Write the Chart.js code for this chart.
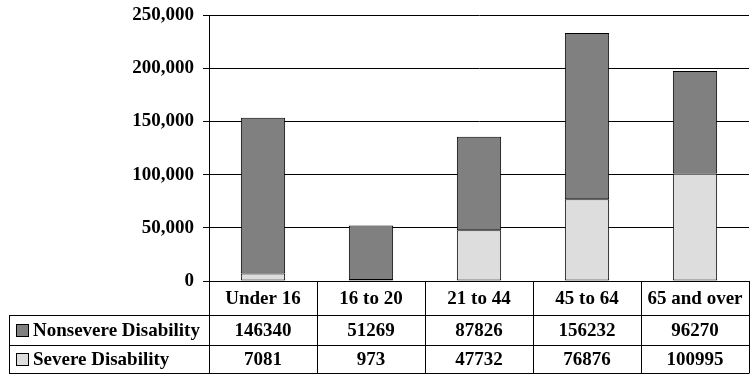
<!DOCTYPE html>
<html>
<head>
<meta charset="utf-8">
<script src="https://cdn.jsdelivr.net/npm/chart.js@4/dist/chart.umd.min.js"></script>
<style>
html,body{margin:0;padding:0;background:#fff;}
#wrap{width:753px;height:374px;position:relative;}
</style>
</head>
<body>
<div id="wrap"><canvas id="c" width="753" height="374"></canvas></div>
<script>
const categories = ['Under 16', '16 to 20', '21 to 44', '45 to 64', '65 and over'];
const nonsevere = [146340, 51269, 87826, 156232, 96270];
const severe = [7081, 973, 47732, 76876, 100995];
const seriesNames = ['Nonsevere Disability', 'Severe Disability'];
const yTicks = [0, 50000, 100000, 150000, 200000, 250000];

const FONT = 'bold 19px "Liberation Serif", "Times New Roman", serif';
const NONSEV_COLOR = '#808080';
const SEV_COLOR = '#DDDDDD';

const tablePlugin = {
  id: 'dataTable',
  afterDraw(chart) {
    const ctx = chart.ctx;
    const xs = chart.scales.x;
    const a = chart.chartArea;
    const n = categories.length;
    const colW = (a.right - a.left) / n;
    const r0 = a.bottom, r1 = r0 + 34, r2 = r1 + 30, r3 = r2 + 28;
    const tableLeft = 9;
    ctx.save();
    ctx.strokeStyle = '#000';
    ctx.lineWidth = 1;
    const h = v => Math.round(v) + 0.5;
    ctx.beginPath();
    ctx.moveTo(a.left, h(r0)); ctx.lineTo(a.right, h(r0));
    [r1, r2, r3].forEach(y => { ctx.moveTo(tableLeft, h(y)); ctx.lineTo(a.right, h(y)); });
    for (let i = 0; i <= n; i++) {
      const x = a.left + i * colW;
      ctx.moveTo(h(x), r0); ctx.lineTo(h(x), h(r3));
    }
    ctx.moveTo(h(tableLeft), h(r1)); ctx.lineTo(h(tableLeft), h(r3));
    ctx.stroke();

    ctx.fillStyle = '#000';
    ctx.font = FONT;
    ctx.textAlign = 'center';
    ctx.textBaseline = 'middle';
    categories.forEach((c, i) => {
      const cx = xs.getPixelForValue(i);
      ctx.fillText(c, cx, (r0 + r1) / 2 + 1);
      ctx.fillText(String(nonsevere[i]), cx, (r1 + r2) / 2 + 1);
      ctx.fillText(String(severe[i]), cx, (r2 + r3) / 2 + 1);
    });
    const rowsY = [(r1 + r2) / 2, (r2 + r3) / 2];
    const cols = [NONSEV_COLOR, SEV_COLOR];
    ctx.textAlign = 'left';
    rowsY.forEach((y, k) => {
      ctx.fillStyle = cols[k];
      ctx.fillRect(16, Math.round(y - 6), 13, 13);
      ctx.strokeStyle = '#000';
      ctx.strokeRect(16.5, Math.round(y - 6) + 0.5, 12, 12);
      ctx.fillStyle = '#000';
      ctx.fillText(seriesNames[k], 33, y + 1);
    });
    ctx.restore();
  }
};

new Chart(document.getElementById('c'), {
  type: 'bar',
  data: {
    labels: categories,
    datasets: [
      { label: seriesNames[1], data: severe, backgroundColor: SEV_COLOR, borderColor: '#000', borderWidth: 1, borderSkipped: false },
      { label: seriesNames[0], data: nonsevere, backgroundColor: NONSEV_COLOR, borderColor: '#000', borderWidth: 1, borderSkipped: false }
    ]
  },
  options: {
    responsive: false,
    animation: false,
    layout: { padding: { left: 0, right: 4, top: 15, bottom: 93 } },
    plugins: { legend: { display: false }, tooltip: { enabled: false } },
    datasets: { bar: { categoryPercentage: 1, barPercentage: 0.41 } },
    scales: {
      x: { stacked: true, display: false },
      y: {
        stacked: true,
        min: 0, max: 250000,
        afterBuildTicks: s => { s.ticks = yTicks.map(v => ({ value: v })); },
        afterFit: s => { s.width = 209; s.paddingTop = 0; s.paddingBottom = 0; },
        ticks: {
          color: '#000',
          font: { family: '"Liberation Serif", "Times New Roman", serif', size: 19, weight: 'bold' },
          padding: 9,
          callback: v => Number(v).toLocaleString('en-US')
        },
        grid: { color: '#000', lineWidth: 1, tickLength: 6, drawTicks: true },
        border: { display: true, color: '#000', width: 1 }
      }
    }
  },
  plugins: [tablePlugin]
});
</script>
</body>
</html>
